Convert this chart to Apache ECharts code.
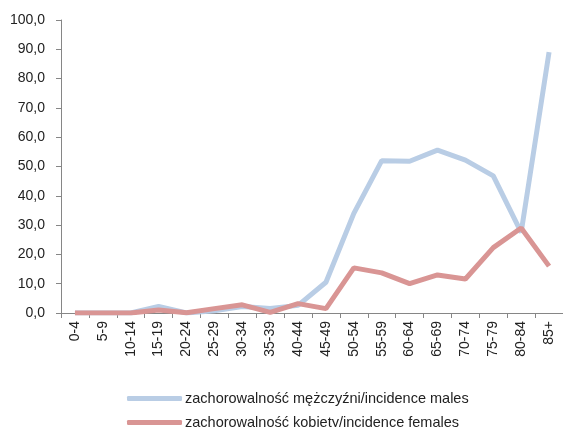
<!DOCTYPE html>
<html lang="pl">
<head>
<meta charset="utf-8">
<title>zachorowalność</title>
<script src="https://cdn.jsdelivr.net/npm/echarts@6/dist/echarts.min.js"></script>
<style>
  html, body { margin: 0; padding: 0; background: #fff; }
  #chart { width: 563px; height: 427px; }
</style>
</head>
<body>
<div id="chart"></div>
<script>
var ageGroups = ['0-4', '5-9', '10-14', '15-19', '20-24', '25-29', '30-34', '35-39', '40-44',
  '45-49', '50-54', '55-59', '60-64', '65-69', '70-74', '75-79', '80-84', '85+'];
var males = [0, 0, 0, 2.2, 0, 0.8, 2.2, 1.5, 2.6, 10.5, 34.0, 52.0, 51.8, 55.6, 52.2, 46.8, 27.5, 89.0];
var females = [0, 0, 0, 1.0, 0.1, 1.5, 2.8, 0.2, 3.2, 1.5, 15.4, 13.7, 10.0, 13.0, 11.6, 22.3, 29.0, 16.0];
var maleName = 'zachorowalność mężczyźni/incidence males';
var femaleName = 'zachorowalność kobiety/incidence females';

function legendAt(name, top) {
  return {
    orient: 'horizontal',
    left: 127,
    top: top,
    padding: 0,
    itemWidth: 55,
    itemHeight: 5,
    icon: 'roundRect',
    textStyle: { fontSize: 14.5, color: '#222', padding: [0, 0, 0, -2] },
    data: [name]
  };
}

var chart = echarts.init(document.getElementById('chart'));
chart.setOption({
  animation: false,
  textStyle: { fontFamily: 'Liberation Sans, Arial, sans-serif' },
  grid: { left: 61, right: 0, top: 20, bottom: 114 },
  legend: [legendAt(maleName, 391), legendAt(femaleName, 415)],
  xAxis: {
    type: 'category',
    data: ageGroups,
    boundaryGap: true,
    axisLine: { lineStyle: { color: '#868686', width: 1 } },
    axisTick: { show: true, length: 5, inside: false, lineStyle: { color: '#868686' } },
    axisLabel: { rotate: 90, interval: 0, fontSize: 14, color: '#222', margin: 8 }
  },
  yAxis: {
    type: 'value',
    min: 0,
    max: 100,
    interval: 10,
    axisLine: { show: true, lineStyle: { color: '#868686', width: 1 } },
    axisTick: { show: true, length: 5, lineStyle: { color: '#868686' } },
    splitLine: { show: false },
    axisLabel: {
      fontSize: 14, color: '#222', margin: 16,
      formatter: function (v) { return v.toFixed(1).replace('.', ','); }
    }
  },
  series: [
    {
      name: maleName,
      type: 'line',
      data: males,
      symbol: 'none',
      lineStyle: { color: '#B9CDE5', width: 5 },
      itemStyle: { color: '#B9CDE5' }
    },
    {
      name: femaleName,
      type: 'line',
      data: females,
      symbol: 'none',
      lineStyle: { color: '#D99594', width: 5 },
      itemStyle: { color: '#D99594' }
    }
  ]
});
</script>
</body>
</html>
